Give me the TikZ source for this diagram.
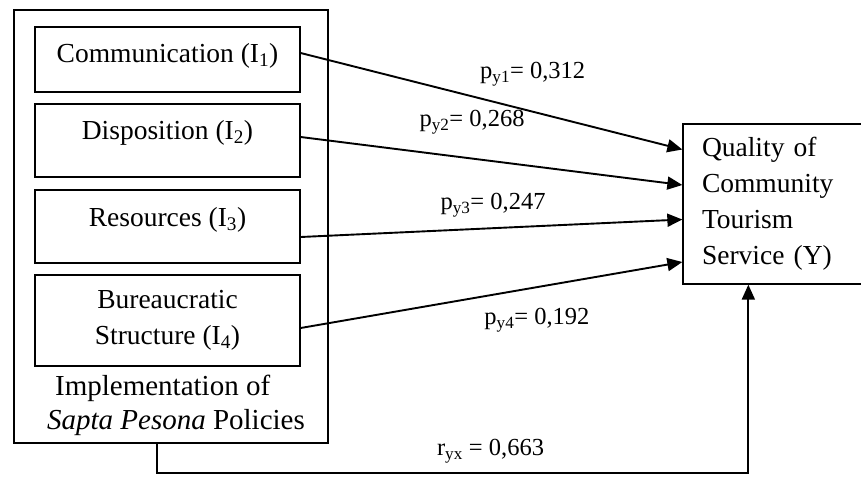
\documentclass[tikz,border=0pt]{standalone}
\usepackage{fontspec}
\setmainfont{Liberation Serif}
\usetikzlibrary{arrows.meta,backgrounds,positioning}

\begin{document}
\begin{tikzpicture}[
        x=1pt,y=-1pt,
        indicator/.style={draw,line width=1.3pt,minimum width=265pt,align=center,inner sep=2pt,font=\fontsize{27.5}{36}\selectfont},
        target/.style={draw,line width=1.3pt,minimum width=200pt,minimum height=160pt,text width=162pt,inner xsep=19pt,align=left,font=\fontsize{27.5}{36}\selectfont},
        areabox/.style={draw,line width=1.3pt,inner sep=0pt},
        coef/.style={inner sep=1pt,font=\fontsize{24.5}{28}\selectfont},
        link/.style={-{Triangle[length=15pt,width=13pt]},line width=1.9pt}
    ]
        \useasboundingbox (0,0) rectangle (861,479);
        \clip (0,0) rectangle (861,479);

        \node[indicator,minimum height=65pt,text height=19pt,text depth=13pt] (comm) at (167.5,59.5) {Communication (I\textsubscript{1})};
        \node[indicator,minimum height=73pt,text height=19pt,text depth=21pt] (disp) at (167.5,140.5) {Disposition (I\textsubscript{2})};
        \node[indicator,minimum height=73pt,text height=19pt,text depth=19pt] (res) at (167.5,226.5) {Resources (I\textsubscript{3})};
        \node[indicator,minimum height=91pt] (bur) at (167.5,320.5) {Bureaucratic\\Structure (I\textsubscript{4})};
        \node[align=left,inner sep=0pt,font=\fontsize{29}{34}\selectfont] (impl) at (176,405) {\hspace{8pt}Implementation of\\\textit{Sapta Pesona} Policies};

        \node[target] (quality) at (783,204) {Quality of\\Community\\Tourism\\Service (Y)};

        \coordinate (turn) at (157,473);

        \draw[link] ([yshift=6.5pt]comm.east) -- node[coef,pos=.608,above=23.7pt] {p\textsubscript{y1}= 0,312} ([yshift=54.5pt]quality.west);
        \draw[link] ([yshift=3.5pt]disp.east) -- node[coef,pos=.449,above=22.6pt] {p\textsubscript{y2}= 0,268} ([yshift=19pt]quality.west);
        \draw[link] ([yshift=-10.5pt]res.east) -- node[coef,pos=.504,above=9.2pt] {p\textsubscript{y3}= 0,247} ([yshift=-15.5pt]quality.west);
        \draw[link] ([yshift=-7.5pt]bur.east) -- node[coef,pos=.619,below=18.9pt] {p\textsubscript{y4}= 0,192} ([yshift=-58pt]quality.west);

        \begin{scope}[on background layer]
            \node[areabox,minimum width=314pt,minimum height=433pt] (policy) at (171,226.5) {};
        \end{scope}

        \draw[link] (policy.south -| turn) -- (turn) -| node[coef,pos=.282,above=8pt] {r\textsubscript{yx} = 0,663} ([xshift=66pt]quality.south west);
    \end{tikzpicture}
\end{document}
